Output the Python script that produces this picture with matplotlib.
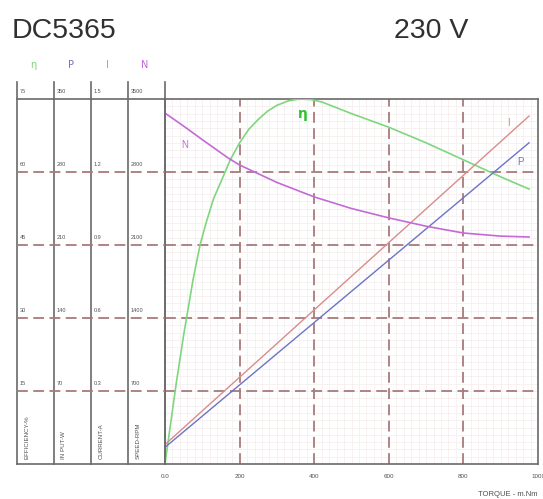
import matplotlib
matplotlib.use("Agg")
import matplotlib.pyplot as plt
from matplotlib.ticker import MultipleLocator

plt.rcParams["font.family"] = ["Liberation Sans", "DejaVu Sans"]

# ---- data ----
torque_eff = [0, 10, 20, 30, 40, 50, 60, 75, 94, 110, 130, 150, 175, 200, 225, 250,
              275, 300, 330, 360, 390, 420, 450, 500, 600, 700, 800, 900, 976]
efficiency = [0, 5.5, 11, 16.5, 21.5, 26.5, 31, 37.8, 45, 49.5, 54.5, 58, 62.5, 66,
              68.8, 70.8, 72.5, 73.7, 74.6, 75, 74.9, 74.4, 73.5, 72, 69.2, 66, 62.5,
              59, 56.5]

torque_n = [0, 50, 100, 169, 200, 300, 400, 500, 600, 700, 800, 900, 976]
speed = [3365, 3240, 3110, 2935, 2867, 2700, 2561, 2450, 2360, 2280, 2215, 2185, 2177]

torque_lin = [0, 976]
current = [0.08, 1.43]
power = [16, 308]

x_ticks = [0, 200, 400, 600, 800, 1000]
x_ticklabels = ["0.0", "200", "400", "600", "800", "1000"]

levels = [75, 60, 45, 30, 15]
col_headers = ["η", "P", "I", "N"]
col_values = [
    ["75", "60", "45", "30", "15"],
    ["350", "280", "210", "140", "70"],
    ["1.5", "1.2", "0.9", "0.6", "0.3"],
    ["3500", "2800", "2100", "1400", "700"],
]
col_names = ["EFFICIENCY-%", "IN PUT-W", "CURRENT-A", "SPEED-RPM"]

C_EFF = "#7fd67f"
C_P = "#6a74c6"
C_I = "#d98c8c"
C_N = "#c46ad6"
C_GRID = "#a87a7a"
C_FRAME = "#6a6a6a"
C_TEXT = "#505050"

W, H = 543, 499
fig = plt.figure(figsize=(W / 100, H / 100), dpi=100)

x0, x1, y0, y1 = 165, 538, 464, 99
rect = [x0 / W, (H - y0) / H, (x1 - x0) / W, (y0 - y1) / H]

ax = fig.add_axes(rect)
ax.set_xlim(0, 1000)
ax.set_ylim(0, 75)
ax.xaxis.set_minor_locator(MultipleLocator(20))
ax.yaxis.set_minor_locator(MultipleLocator(1.5))
ax.grid(which="minor", color="#f6ecec", lw=0.5)
ax.set_axisbelow(True)
for v in [200, 400, 600, 800]:
    ax.axvline(v, color=C_GRID, lw=1.3, ls=(0, (6, 3)), zorder=1)
for lv in levels[1:]:
    ax.axhline(lv, color=C_GRID, lw=1.3, ls=(0, (6, 3)), zorder=1)
ax.set_xticks(x_ticks)
ax.set_xticklabels(x_ticklabels, fontsize=4.5, color=C_TEXT)
ax.set_yticks([])
ax.tick_params(axis="both", which="both", length=0)
ax.tick_params(axis="x", pad=7)
for sp in ax.spines.values():
    sp.set_color(C_FRAME)
    sp.set_linewidth(1.2)
ax.plot(torque_eff, efficiency, color=C_EFF, lw=1.2, zorder=3)
ax.text(370, 72, "η", color="#30c030", fontsize=10, fontweight="bold",
        ha="center", va="center", family=["DejaVu Sans"])
ax.text(54, 65.5, "N", color=C_N, fontsize=7, ha="center", va="center")
ax.text(920, 70, "I", color=C_I, fontsize=7, ha="center", va="center")
ax.text(952, 62, "P", color=C_P, fontsize=7, ha="center", va="center")
ax.text(1000, -6.2, "TORQUE - m.Nm", fontsize=5.5, color=C_TEXT, ha="right", va="center")

# overlaid axes for the other scales
ax_p = fig.add_axes(rect, frameon=False)
ax_p.set_xlim(0, 1000)
ax_p.set_ylim(0, 350)
ax_p.plot(torque_lin, power, color=C_P, lw=1.0)
ax_p.axis("off")

ax_i = fig.add_axes(rect, frameon=False)
ax_i.set_xlim(0, 1000)
ax_i.set_ylim(0, 1.5)
ax_i.plot(torque_lin, current, color=C_I, lw=1.0)
ax_i.axis("off")

ax_n = fig.add_axes(rect, frameon=False)
ax_n.set_xlim(0, 1000)
ax_n.set_ylim(0, 3500)
ax_n.plot(torque_n, speed, color=C_N, lw=1.2)
ax_n.axis("off")

# left scale panel
p0 = 17
pan = fig.add_axes([p0 / W, (H - y0) / H, (x0 - p0) / W, (y0 - y1) / H], frameon=False)
pan.set_xlim(0, 4)
pan.set_ylim(0, 75)
pan.axis("off")
for k in range(5):
    pan.plot([k, k], [0, 78.5], color=C_FRAME, lw=1.2, clip_on=False)
pan.plot([0, 4], [75, 75], color=C_FRAME, lw=1.2, clip_on=False)
pan.plot([0, 4], [0, 0], color=C_FRAME, lw=1.2, clip_on=False)
for lv in levels[1:]:
    pan.plot([0, 4], [lv, lv], color=C_GRID, lw=1.3, ls=(0, (6, 3)))
head_colors = [C_EFF, C_P, C_I, C_N]
for k in range(4):
    pan.text(k + 0.45, 82, col_headers[k], color=head_colors[k], fontsize=7,
             ha="center", va="center", family=["DejaVu Sans"])
    for lv, lab in zip(levels, col_values[k]):
        pan.text(k + 0.08, lv + 1.0, lab, fontsize=4, color=C_TEXT, ha="left", va="bottom")
    pan.text(k + 0.2, 1.0, col_names[k], fontsize=4.4, color=C_TEXT, rotation=90,
             ha="left", va="bottom")

fig.text(12 / W, 1 - 31 / H, "DC5365", fontsize=20.5, color="#303030", ha="left", va="center")
fig.text(468 / W, 1 - 31 / H, "230 V", fontsize=20.5, color="#303030", ha="right", va="center")

fig.savefig("out.png", dpi=100, facecolor="white")
